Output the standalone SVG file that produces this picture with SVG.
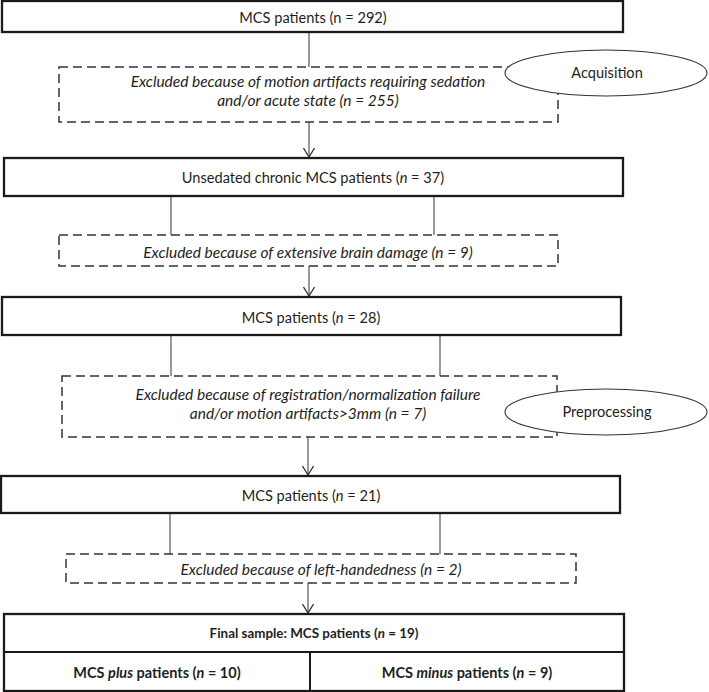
<svg xmlns="http://www.w3.org/2000/svg" width="709" height="692" viewBox="0 0 709 692">
<style>
text{font-family:Lato,"Liberation Sans",Arial,sans-serif;font-size:14.6px;fill:#1e1e1e;text-anchor:middle;dominant-baseline:central}
.box{fill:#fff;stroke:#1a1a1a;stroke-width:2.3}
.dash{fill:#fff;stroke:#333;stroke-width:1.5;stroke-dasharray:9 5}
.ell{fill:#fff;stroke:#333;stroke-width:1.1}
.it{font-style:italic}
.x{font-style:italic;font-size:15.5px}
.b{font-weight:bold;font-size:14.5px}
.t{font-size:13.4px}
.con line{stroke:#444;stroke-width:1.1}
.arr{marker-end:url(#ah)}
</style>
<defs>
<marker id="ah" viewBox="-1 -6 12 12" refX="10" refY="0" markerWidth="12" markerHeight="12" markerUnits="userSpaceOnUse" orient="auto">
<path d="M1,-5.5 L10,0 L1,5.5" fill="none" stroke="#333" stroke-width="1.3"/>
</marker>
</defs>
<g class="con">
<line x1="309" y1="32" x2="309" y2="67"/>
<line class="arr" x1="309" y1="122" x2="309" y2="157"/>
<line x1="171" y1="196" x2="171" y2="235"/>
<line x1="434" y1="196" x2="434" y2="235"/>
<line class="arr" x1="309" y1="266" x2="309" y2="296"/>
<line x1="171" y1="335" x2="171" y2="376"/>
<line x1="440" y1="335" x2="440" y2="376"/>
<line class="arr" x1="308" y1="437" x2="308" y2="475"/>
<line x1="170" y1="513" x2="170" y2="554"/>
<line x1="440" y1="513" x2="440" y2="554"/>
<line class="arr" x1="308" y1="583" x2="308" y2="613"/>
</g>
<g id="n1"><rect class="box" x="2" y="1" width="621" height="31"/><text x="313" y="17">MCS patients (n = 292)</text></g>
<g id="x1"><rect class="dash" x="59" y="67" width="499" height="55"/><text class="x" x="308" y="81">Excluded because of motion artifacts requiring sedation</text><text class="x" x="308" y="100">and/or acute state (n = 255)</text></g>
<g id="acq"><ellipse class="ell" cx="606" cy="73" rx="101" ry="23"/><text x="607" y="72">Acquisition</text></g>
<g id="n2"><rect class="box" x="4" y="158" width="619" height="38"/><text x="313" y="177">Unsedated chronic MCS patients (<tspan class="it">n</tspan> = 37)</text></g>
<g id="x2"><rect class="dash" x="59" y="235" width="499" height="31"/><text class="x" x="308" y="252">Excluded because of extensive brain damage (n = 9)</text></g>
<g id="n3"><rect class="box" x="2" y="297" width="619" height="38"/><text x="311" y="317">MCS patients (<tspan class="it">n</tspan> = 28)</text></g>
<g id="x3"><rect class="dash" x="62" y="376" width="495" height="61"/><text class="x" x="308" y="394">Excluded because of registration/normalization failure</text><text class="x" x="308" y="413">and/or motion artifacts&gt;3mm (n = 7)</text></g>
<g id="pre"><ellipse class="ell" cx="606" cy="412" rx="101" ry="23"/><text x="607" y="411">Preprocessing</text></g>
<g id="n4"><rect class="box" x="1" y="476" width="619" height="37"/><text x="311" y="495">MCS patients (<tspan class="it">n</tspan> = 21)</text></g>
<g id="x4"><rect class="dash" x="66" y="554" width="510" height="29"/><text class="x" x="321" y="569">Excluded because of left-handedness (n = 2)</text></g>
<g id="fin"><rect class="box" x="4" y="614" width="620" height="77"/><line x1="4" y1="652" x2="624" y2="652" stroke="#1a1a1a" stroke-width="2"/><line x1="310" y1="652" x2="310" y2="691" stroke="#1a1a1a" stroke-width="2"/><text class="b t" x="314" y="633">Final sample: MCS patients (<tspan class="it">n</tspan> = 19)</text></g>
<g id="plus"><text class="b" x="157" y="672">MCS <tspan class="it">plus</tspan> patients (<tspan class="it">n</tspan> = 10)</text></g>
<g id="minus"><text class="b" x="467" y="672">MCS <tspan class="it">minus</tspan> patients (<tspan class="it">n</tspan> = 9)</text></g>
</svg>
